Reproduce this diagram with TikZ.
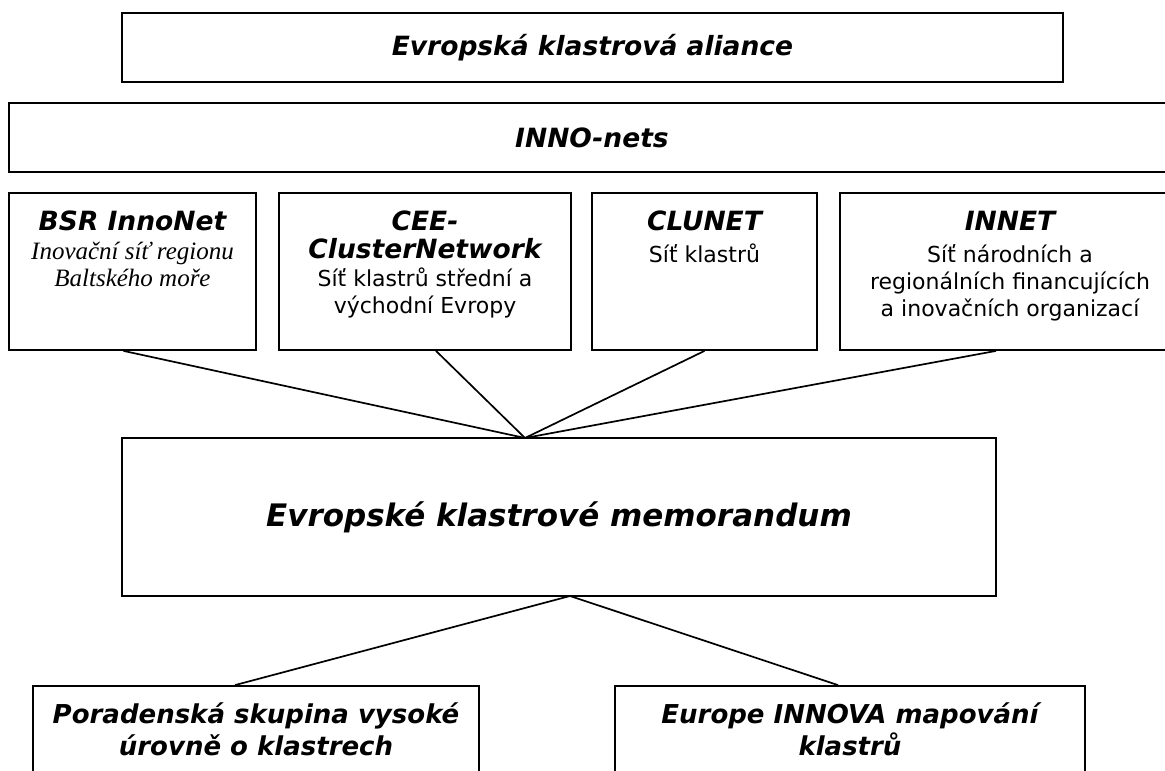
\documentclass[tikz,border=0pt]{standalone}
\usepackage{fontspec}
\setmainfont{DejaVu Sans}
\newfontfamily\timesf{Liberation Serif}
\usetikzlibrary{positioning}

\newcommand{\titlef}{\fontsize{26.5}{29}\selectfont\bfseries\itshape}
\newcommand{\descf}{\fontsize{22}{27}\selectfont}
\newcommand{\serifd}{\timesf\fontsize{25}{27}\selectfont\itshape}

\tikzset{
  box/.style={draw, line width=1.8pt, inner sep=0pt},
  rowbox/.style={box, minimum height=157pt},
  conn/.style={line width=1.7pt},
  txt/.style={anchor=north, align=center, inner sep=0pt, font=\descf}
}

\begin{document}
\begin{tikzpicture}[x=1pt,y=-1pt]
\useasboundingbox (0,0) rectangle (1165,771);
\clip (0,0) rectangle (1165,771);

% horni dva pruhy
\node[box, minimum width=941pt, minimum height=69pt, font=\titlef] (alliance) at (592.5,47.5) {Evropská klastrová aliance};
\node[box, minimum width=1166pt, minimum height=69pt, font=\titlef] (innonets) at (592,137.5) {INNO-nets};

% site
\node[rowbox, minimum width=247pt] (bsr) at (132.5,271.5) {};
\node[rowbox, minimum width=292pt] (cee) at (425,271.5) {};
\node[rowbox, minimum width=225pt] (clunet) at (704.5,271.5) {};
\node[rowbox, minimum width=340pt] (innet) at (1010,271.5) {};

\node[txt] (bsrtxt) at ([yshift=-19pt]bsr.north) {{\titlef BSR InnoNet}\\[2pt]{\serifd Inovační síť regionu}\\{\serifd Baltského moře}};
\node[txt] (ceetxt) at ([yshift=-19pt]cee.north) {{\titlef CEE-}\\[1pt]{\titlef ClusterNetwork}\\[1pt]Síť klastrů střední a\\východní Evropy};
\node[txt] (clunettxt) at ([yshift=-19pt]clunet.north) {{\titlef CLUNET}\\[5pt]Síť klastrů};
\node[txt] (innettxt) at ([yshift=-19pt]innet.north) {{\titlef INNET}\\[5pt]Síť národních a\\regionálních financujících\\a inovačních organizací};

% memorandum
\node[box, minimum width=874pt, minimum height=158pt, font=\fontsize{31}{36}\selectfont\bfseries\itshape] (memo) at (559,517) {Evropské klastrové memorandum};
\coordinate (hubtop) at (525,438);
\coordinate (hubbot) at (570,596);

% spodni skupiny
\node[box, minimum width=446pt, minimum height=170pt] (advisory) at (256,771) {};
\node[box, minimum width=470pt, minimum height=170pt] (mapping) at (850,771) {};
\node[txt, font=\fontsize{26}{32}\selectfont\bfseries\itshape] (advtxt) at ([yshift=-17pt]advisory.north) {Poradenská skupina vysoké\\úrovně o klastrech};
\node[txt, font=\fontsize{26}{32}\selectfont\bfseries\itshape] (maptxt) at ([yshift=-17pt]mapping.north) {Europe INNOVA mapování\\klastrů};

% spojnice
\draw[conn] ([xshift=-9pt]bsr.south) -- (hubtop);
\draw[conn] ([xshift=11pt]cee.south) -- (hubtop);
\draw[conn] (clunet.south) -- (hubtop);
\draw[conn] ([xshift=-14pt]innet.south) -- (hubtop);
\draw[conn] (hubbot) -- ([xshift=-21pt]advisory.north);
\draw[conn] (hubbot) -- ([xshift=-12pt]mapping.north);
\end{tikzpicture}
\end{document}
